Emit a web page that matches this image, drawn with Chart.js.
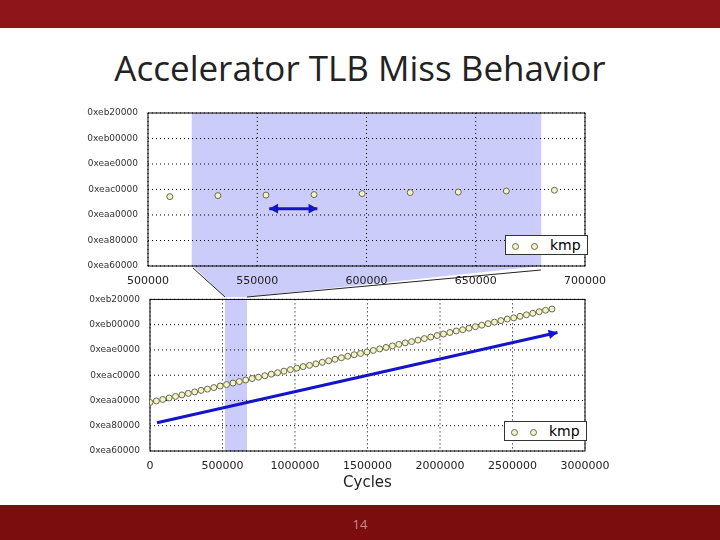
<!DOCTYPE html>
<html lang="en">
<head>
<meta charset="UTF-8">
<title>Accelerator TLB Miss Behavior</title>
<script src="https://cdn.jsdelivr.net/npm/chart.js"></script>
<style>
  body { margin: 0; width: 720px; height: 540px; position: relative; background: #fff; overflow: hidden; font-family: 'Open Sans', sans-serif; }
  .bar { position: absolute; left: 0; width: 720px; }
  #topbar { top: 0; height: 28px; background: #8e1519; }
  #botbar { top: 505px; height: 35px; background: #7c0d0f; color: #c98a8a; font-size: 13px; text-align: center; line-height: 38px; }
  h1 { position: absolute; top: 44px; left: 0; width: 720px; margin: 0; text-align: center; font-weight: normal; font-size: 35px; color: #222; }
  .wrap { position: absolute; }
  .legend { position: absolute; background: #fff; border: 1px solid #333; font-size: 14px; padding: 1px 6px 1px 6px; font-family: 'DejaVu Sans', sans-serif; }
  .legend span.dot { display: inline-block; width: 5px; height: 5px; border-radius: 50%; border: 1px solid #666; background: #f4f5b8; margin-right: 12px; vertical-align: middle; }
  svg { position: absolute; left: 0; top: 0; }
</style>
</head>
<body>
<div class="bar" id="topbar"></div>
<h1>Accelerator TLB Miss Behavior</h1>
<svg width="720" height="540"><polygon points="193,266 541,266 247,297 225,297" fill="#ccccfb"/>
<polyline points="193,268 225,297" stroke="#222" fill="none"/><polyline points="541,270 247,297" stroke="#222" fill="none"/></svg>
<div class="wrap" style="left:85px;top:105px;width:535px;height:180px"><canvas id="c1"></canvas></div>
<div class="wrap" style="left:85px;top:292px;width:535px;height:200px"><canvas id="c2"></canvas></div>
<div class="legend" style="left:505px;top:235px"><span class="dot"></span><span class="dot"></span>kmp</div>
<div class="legend" style="left:504px;top:421px"><span class="dot"></span><span class="dot"></span>kmp</div>
<div class="bar" id="botbar">14</div>
<script>
const yTickLabels = ['0xea60000', '0xea80000', '0xeaa0000', '0xeac0000', '0xeae0000', '0xeb00000', '0xeb20000'];

// zoomed view
const zoomCycles = [510000, 532000, 554000, 576000, 598000, 620000, 642000, 664000, 686000];
const zoomAddr = [2.72, 2.76, 2.78, 2.80, 2.84, 2.88, 2.90, 2.94, 2.97];
const zoomShade = [520000, 680000];
const zoomArrow = [[555500, 2.25], [577500, 2.25]];

// full run
const fullCycles = [0, 44000, 88000, 132000, 176000, 220000, 264000, 308000, 352000, 396000, 440000, 484000, 528000, 572000, 616000, 660000,
  704000, 748000, 792000, 836000, 880000, 924000, 968000, 1012000, 1056000, 1100000, 1144000, 1188000, 1232000, 1276000, 1320000, 1364000,
  1408000, 1452000, 1496000, 1540000, 1584000, 1628000, 1672000, 1716000, 1760000, 1804000, 1848000, 1892000, 1936000, 1980000, 2024000, 2068000,
  2112000, 2156000, 2200000, 2244000, 2288000, 2332000, 2376000, 2420000, 2464000, 2508000, 2552000, 2596000, 2640000, 2684000, 2728000, 2772000];
const fullAddr = [1.92, 1.98, 2.04, 2.10, 2.16, 2.22, 2.28, 2.34, 2.40, 2.45, 2.51, 2.57, 2.63, 2.69, 2.75, 2.81,
  2.87, 2.92, 2.98, 3.04, 3.10, 3.16, 3.22, 3.28, 3.34, 3.39, 3.45, 3.51, 3.57, 3.63, 3.69, 3.75,
  3.81, 3.86, 3.92, 3.98, 4.04, 4.10, 4.16, 4.22, 4.28, 4.33, 4.39, 4.45, 4.51, 4.57, 4.63, 4.69,
  4.75, 4.80, 4.86, 4.92, 4.98, 5.04, 5.10, 5.16, 5.22, 5.27, 5.33, 5.39, 5.45, 5.51, 5.57, 5.62];
const fullShade = [517000, 669000];
const fullArrow = [[48000, 1.12], [2810000, 4.69]];

function arrowHead(ctx, x1, y1, x2, y2) {
  const a = Math.atan2(y2 - y1, x2 - x1), L = 10, W = 0.5;
  ctx.beginPath();
  ctx.moveTo(x2, y2);
  ctx.lineTo(x2 - L * Math.cos(a - W), y2 - L * Math.sin(a - W));
  ctx.lineTo(x2 - L * Math.cos(a + W), y2 - L * Math.sin(a + W));
  ctx.closePath();
  ctx.fill();
}

const decor = {
  id: 'decor',
  beforeDatasetsDraw(chart, args, o) {
    const { ctx, chartArea: ca, scales: { x, y } } = chart;
    ctx.save();
    ctx.fillStyle = '#ccccfb';
    const a = x.getPixelForValue(o.shade[0]), b = x.getPixelForValue(o.shade[1]);
    ctx.fillRect(a, ca.top, b - a, ca.bottom - ca.top);
    // dotted grid
    ctx.strokeStyle = '#000'; ctx.lineWidth = 1; ctx.setLineDash([1, 3]);
    x.ticks.forEach(t => { const px = x.getPixelForValue(t.value); ctx.beginPath(); ctx.moveTo(px, ca.top); ctx.lineTo(px, ca.bottom); ctx.stroke(); });
    y.ticks.forEach(t => { const py = y.getPixelForValue(t.value); ctx.beginPath(); ctx.moveTo(ca.left, py); ctx.lineTo(ca.right, py); ctx.stroke(); });
    ctx.setLineDash([]);
    ctx.strokeRect(ca.left, ca.top, ca.right - ca.left, ca.bottom - ca.top);
    ctx.restore();
  },
  afterDatasetsDraw(chart, args, o) {
    const { ctx, scales: { x, y } } = chart;
    const [p, q] = o.arrow;
    const x1 = x.getPixelForValue(p[0]), y1 = y.getPixelForValue(p[1]);
    const x2 = x.getPixelForValue(q[0]), y2 = y.getPixelForValue(q[1]);
    ctx.save();
    ctx.strokeStyle = '#1414c8'; ctx.fillStyle = '#1414c8'; ctx.lineWidth = 3;
    ctx.beginPath(); ctx.moveTo(x1, y1); ctx.lineTo(x2, y2); ctx.stroke();
    arrowHead(ctx, x1, y1, x2, y2);
    if (o.both) arrowHead(ctx, x2, y2, x1, y1);
    ctx.restore();
  }
};

function makeChart(id, xs, ys, xmin, xmax, xstep, pad, yw, xh, opts, title) {
  return new Chart(document.getElementById(id), {
    type: 'scatter',
    data: { datasets: [{ label: 'kmp', data: xs.map((v, i) => ({ x: v, y: ys[i] })),
      pointRadius: 3, pointBackgroundColor: '#f4f5b8', pointBorderColor: '#666', pointBorderWidth: 1 }] },
    options: {
      responsive: true, maintainAspectRatio: false, animation: false,
      layout: { padding: pad },
      plugins: { legend: { display: false }, tooltip: { enabled: false }, decor: opts },
      scales: {
        x: { type: 'linear', min: xmin, max: xmax, grid: { display: false }, border: { display: false },
          afterFit: s => { s.height = xh; },
          title: { display: !!title, text: title, color: '#222', font: { size: 15, family: 'DejaVu Sans' }, padding: 0 },
          ticks: { stepSize: xstep, maxRotation: 0, color: '#222', padding: 1, font: { size: 11, family: 'DejaVu Sans' }, callback: v => String(v) } },
        y: { min: 0, max: 6, grid: { display: false }, border: { display: false },
          afterFit: s => { s.width = yw; },
          ticks: { stepSize: 1, color: '#333', padding: 2, font: { size: 9, family: 'DejaVu Sans' }, callback: v => yTickLabels[v] } }
      }
    },
    plugins: [decor]
  });
}

makeChart('c1', zoomCycles, zoomAddr, 500000, 700000, 50000, { top: 8, right: 35 }, 63, 19,
  { shade: zoomShade, arrow: zoomArrow, both: true }, '');
makeChart('c2', fullCycles, fullAddr, 0, 3000000, 500000, { top: 5, right: 35 }, 65, 41,
  { shade: fullShade, arrow: fullArrow, both: false }, 'Cycles');
</script>
</body>
</html>
